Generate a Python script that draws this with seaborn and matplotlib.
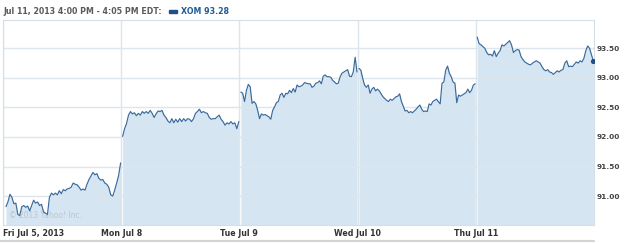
import numpy as np
import pandas as pd
import matplotlib
matplotlib.use("Agg")
import matplotlib.pyplot as plt
from matplotlib.lines import Line2D
from matplotlib.patches import Rectangle
import seaborn as sns

# ---------------- data ----------------
day_labels = ["Fri Jul 5, 2013", "Mon Jul 8", "Tue Jul 9", "Wed Jul 10", "Thu Jul 11"]
y_ticks = [91.00, 91.50, 92.00, 92.50, 93.00, 93.50]

fri = [90.82, 90.90, 91.03, 90.98, 90.87, 90.88, 90.69, 90.67, 90.82, 90.84, 90.81, 90.83,
       90.75, 90.84, 90.93, 90.88, 90.90, 90.84, 90.86, 90.73, 90.71, 90.69, 90.98, 91.05,
       91.02, 91.05, 91.02, 91.09, 91.04, 91.11, 91.09, 91.12, 91.13, 91.15, 91.22, 91.20,
       91.19, 91.15, 91.10, 91.12, 91.10, 91.20, 91.28, 91.34, 91.40, 91.36, 91.38, 91.30,
       91.27, 91.28, 91.22, 91.20, 91.15, 91.02, 91.00, 91.10, 91.22, 91.35, 91.56]
mon = [92.01, 92.14, 92.23, 92.37, 92.43, 92.39, 92.41, 92.36, 92.40, 92.37, 92.43, 92.40,
       92.43, 92.40, 92.45, 92.40, 92.33, 92.39, 92.44, 92.43, 92.45, 92.37, 92.33, 92.27,
       92.24, 92.31, 92.24, 92.30, 92.25, 92.31, 92.26, 92.31, 92.27, 92.31, 92.30, 92.26,
       92.31, 92.40, 92.43, 92.47, 92.41, 92.43, 92.41, 92.40, 92.33, 92.30, 92.31, 92.31,
       92.34, 92.37, 92.30, 92.26, 92.20, 92.24, 92.22, 92.26, 92.22, 92.24, 92.14, 92.26]
tue = [92.76, 92.74, 92.60, 92.79, 92.89, 92.85, 92.57, 92.60, 92.56, 92.45, 92.31, 92.39,
       92.37, 92.38, 92.36, 92.34, 92.30, 92.45, 92.51, 92.58, 92.60, 92.71, 92.74, 92.67,
       92.74, 92.73, 92.79, 92.75, 92.82, 92.76, 92.88, 92.85, 92.86, 92.88, 92.92, 92.91,
       92.90, 92.90, 92.84, 92.86, 92.91, 92.92, 92.95, 92.90, 93.03, 93.05, 93.02, 93.02,
       93.01, 92.96, 92.93, 92.90, 92.91, 93.02, 93.08, 93.10, 93.12, 93.14, 93.03, 93.02,
       93.10, 93.35, 93.10]
wed = [93.16, 93.13, 92.99, 92.88, 92.84, 92.88, 92.74, 92.81, 92.84, 92.78, 92.81, 92.78,
       92.73, 92.68, 92.65, 92.62, 92.60, 92.64, 92.62, 92.65, 92.68, 92.69, 92.73, 92.60,
       92.52, 92.44, 92.45, 92.41, 92.43, 92.41, 92.44, 92.47, 92.51, 92.54, 92.47, 92.43,
       92.44, 92.43, 92.56, 92.54, 92.60, 92.62, 92.64, 92.60, 92.56, 92.91, 92.93, 93.13,
       93.20, 93.08, 93.02, 92.93, 92.91, 92.58, 92.71, 92.69, 92.71, 92.73, 92.75, 92.81,
       92.75, 92.79, 92.88, 92.90]
thu = [93.69, 93.58, 93.56, 93.53, 93.50, 93.43, 93.39, 93.40, 93.37, 93.46, 93.36, 93.42,
       93.46, 93.56, 93.54, 93.57, 93.60, 93.63, 93.56, 93.43, 93.46, 93.48, 93.47, 93.36,
       93.31, 93.27, 93.25, 93.23, 93.22, 93.25, 93.27, 93.29, 93.27, 93.25, 93.19, 93.14,
       93.12, 93.14, 93.10, 93.09, 93.06, 93.09, 93.12, 93.10, 93.13, 93.14, 93.25, 93.29,
       93.19, 93.20, 93.19, 93.23, 93.27, 93.25, 93.29, 93.27, 93.33, 93.46, 93.54, 93.50,
       93.39, 93.28]
series = [fri, mon, tue, wed, thu]
session_start = [0.025, 0.012, 0.012, 0.012, 0.012]
session_end = 0.995

# build the table
rows = []
for d, (vals, s0) in enumerate(zip(series, session_start)):
    t = d + np.linspace(s0, session_end, len(vals))
    for tt, v in zip(t, vals):
        rows.append({"t": tt, "price": v, "day": d})
df = pd.DataFrame(rows)

# ---------------- style ----------------
sns.set_theme(style="white")
plt.rcParams["font.family"] = ["DejaVu Sans"]

LINE = "#3a6a9c"
FILL = "#d5e5f1"
GRID = "#dde5ed"
YMIN, YMAX = 90.51, 93.98

fig = plt.figure(figsize=(6.25, 2.43), dpi=100)
fig.patch.set_facecolor("white")
ax = fig.add_axes([3 / 625, 1 - 225 / 243, 591 / 625, 205 / 243])
ax.set_facecolor("white")

for d in range(len(series)):
    sub = df[df["day"] == d]
    ax.fill_between(sub["t"], YMIN, sub["price"], color=FILL, lw=0, zorder=1)

sns.lineplot(data=df, x="t", y="price", units="day", estimator=None,
             color=LINE, lw=0.85, ax=ax, zorder=3, legend=False)

last = df.iloc[-1]
ax.scatter([last["t"]], [last["price"]], s=14, color="#1f4f80", zorder=4, lw=0)

ax.set_xlim(0, 5)
ax.set_ylim(YMIN, YMAX)

ax.set_axisbelow("line")
ax.set_yticks(y_ticks)
ax.grid(True, color=GRID, lw=1.0, zorder=2)

ax.set_xticks(range(5))
ax.set_xticklabels(day_labels, fontsize=5.7, fontweight="bold", color="#333333")
ax.get_xticklabels()[0].set_horizontalalignment("left")
ax.xaxis.set_tick_params(length=0, pad=3.2)

ax.yaxis.tick_right()
ax.set_yticklabels([f"{v:.2f}" for v in y_ticks], fontsize=5.3, fontweight="bold", color="#444444")
ax.yaxis.set_tick_params(length=0, pad=2.2)
ax.set_xlabel("")
ax.set_ylabel("")

for sp in ax.spines.values():
    sp.set_color("#d5dee6")
    sp.set_linewidth(0.8)

# watermark
ax.text(0.01, 0.025, "\u00a9 2013 Yahoo! Inc.", transform=ax.transAxes, fontsize=5.5,
        color="#bcc6cf", ha="left", va="bottom", zorder=2.5)

# header
fig.text(3 / 625, 1 - 12 / 243, "Jul 11, 2013 4:00 PM - 4:05 PM EDT:", fontsize=5.7,
         fontweight="bold", color="#5a5a5a", ha="left", va="center")
fig.patches.append(Rectangle((169 / 625, 1 - 13.5 / 243), 8 / 625, 3 / 243,
                             transform=fig.transFigure, color="#1f4f85", figure=fig))
fig.text(181 / 625, 1 - 12 / 243, "XOM 93.28", fontsize=5.7, fontweight="bold",
         color="#1f5c99", ha="left", va="center")

# bottom bar
fig.add_artist(Line2D([0, 594 / 625], [1 - 240.5 / 243] * 2, transform=fig.transFigure,
                      color="#d4d4d4", lw=1.6))

fig.savefig("out.png", dpi=100, facecolor="white")
